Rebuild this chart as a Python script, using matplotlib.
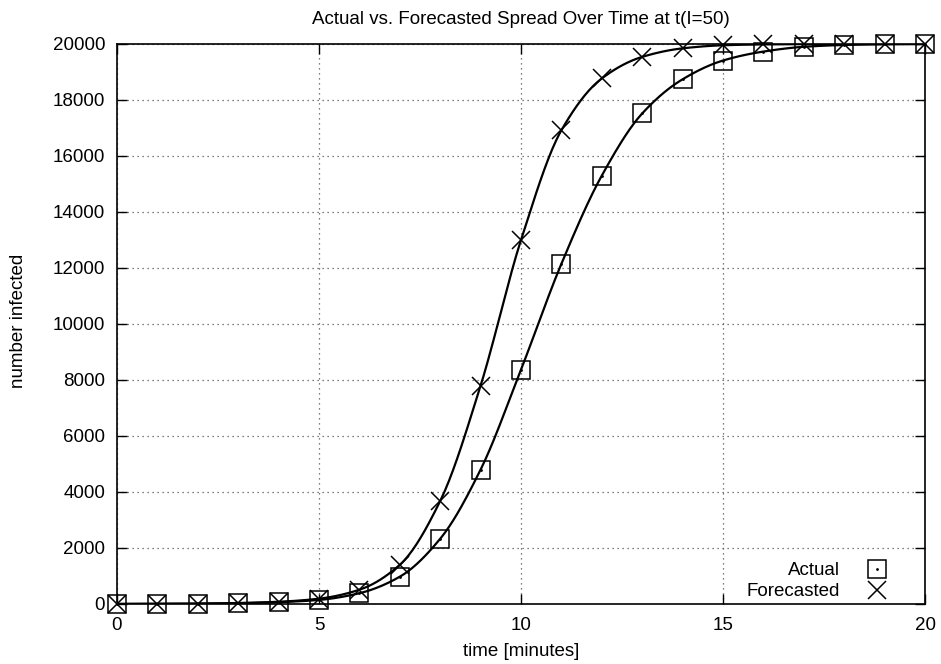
import numpy as np
import matplotlib
matplotlib.use("Agg")
from matplotlib import pyplot as plt
from matplotlib.lines import Line2D
from matplotlib.legend_handler import HandlerTuple

plt.rcParams['font.family'] = ['Liberation Sans', 'DejaVu Sans']
plt.rcParams['font.size'] = 13.5

# minutes
t = [0, 1, 2, 3, 4, 5, 6, 7, 8, 9, 10, 11, 12, 13, 14, 15, 16, 17, 18, 19, 20]
actual = [2, 5, 12, 28, 65, 145, 385, 975, 2330, 4800, 8370, 12150, 15300,
          17520, 18740, 19410, 19730, 19900, 19965, 19990, 20000]
forecast = [2, 6, 15, 35, 80, 190, 510, 1400, 3680, 7800, 13000, 16920, 18770,
            19540, 19845, 19955, 19985, 19995, 19998, 20000, 20000]


def pchip(x, y, xs):
    # monotone cubic through the points, no overshoot at the plateau
    x = np.asarray(x, float)
    y = np.asarray(y, float)
    h = np.diff(x)
    d = np.diff(y) / h
    m = np.zeros_like(y)
    m[0] = d[0]
    m[-1] = d[-1]
    for k in range(1, len(x) - 1):
        if d[k - 1] * d[k] <= 0:
            m[k] = 0
        else:
            w1 = 2 * h[k] + h[k - 1]
            w2 = h[k] + 2 * h[k - 1]
            m[k] = (w1 + w2) / (w1 / d[k - 1] + w2 / d[k])
    idx = np.clip(np.searchsorted(x, xs) - 1, 0, len(x) - 2)
    s = (xs - x[idx]) / h[idx]
    h00 = 2 * s**3 - 3 * s**2 + 1
    h10 = s**3 - 2 * s**2 + s
    h01 = -2 * s**3 + 3 * s**2
    h11 = s**3 - s**2
    return (h00 * y[idx] + h10 * h[idx] * m[idx]
            + h01 * y[idx + 1] + h11 * h[idx] * m[idx + 1])


fig = plt.figure(figsize=(9.41, 6.64), dpi=100)
ax = fig.add_axes([117 / 941, 1 - 604 / 664, 808 / 941, 560 / 664])

tt = np.linspace(0, 20, 400)
ax.plot(tt, pchip(t, actual, tt), color='black', lw=1.6, zorder=3)
ax.plot(tt, pchip(t, forecast, tt), color='black', lw=1.6, zorder=3)

ax.plot(t, actual, ls='none', marker='s', ms=12.5, mfc='none', mec='black',
        mew=1.1, zorder=4, clip_on=False)
ax.plot(t, actual, ls='none', marker='.', ms=2, color='black', zorder=4,
        clip_on=False)
ax.plot(t, forecast, ls='none', marker='x', ms=12.5, color='black',
        mew=1.1, zorder=4, clip_on=False)

ax.set_xlim(0, 20)
ax.set_ylim(0, 20000)
ax.set_xticks([0, 5, 10, 15, 20])
ax.set_yticks(range(0, 20001, 2000))
ax.tick_params(direction='in', length=7, width=1, top=True, right=True)
ax.tick_params(axis='y', pad=8.6)
ax.tick_params(axis='x', pad=9.5)
for sp in ax.spines.values():
    sp.set_linewidth(1.2)
ax.grid(True, color='#555555', lw=0.9, linestyle=(0, (1, 3)))

ax.set_title('Actual vs. Forecasted Spread Over Time at t(I=50)',
             fontsize=13.5, pad=14.4)
fig.text(521 / 941, 1 - 651 / 664, 'time [minutes]', ha='center', va='center')
fig.text(18.5 / 941, 1 - 321 / 664, 'number infected', ha='center',
         va='center', rotation=90)

sq = Line2D([], [], ls='none', marker='s', ms=12.5, mfc='none', mec='black', mew=1.1)
dot = Line2D([], [], ls='none', marker='.', ms=2, color='black')
xm = Line2D([], [], ls='none', marker='x', ms=12.5, color='black', mew=1.1)
ax.legend([(sq, dot), xm], ['Actual', 'Forecasted'],
          handler_map={tuple: HandlerTuple(ndivide=1)},
          loc='lower right', bbox_to_anchor=(0.962, -0.007), borderaxespad=0,
          frameon=False, markerfirst=False, handlelength=1.0,
          handletextpad=1.5, labelspacing=0.21)

fig.savefig('out.png', dpi=100)
